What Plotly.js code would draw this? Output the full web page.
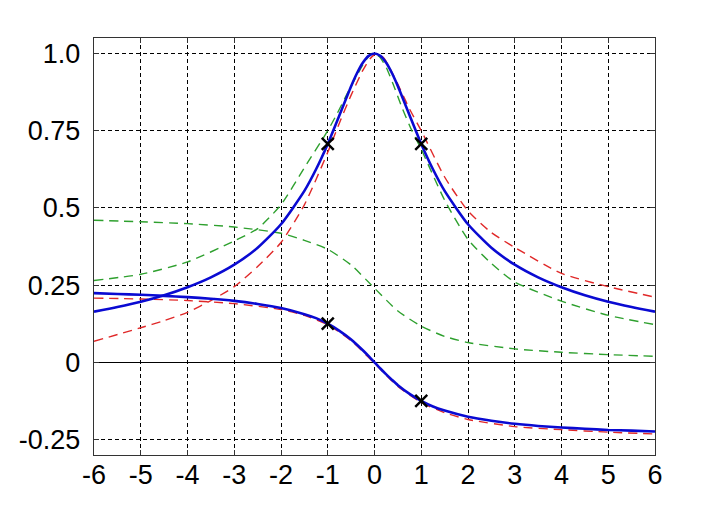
<!DOCTYPE html>
<html>
<head>
<meta charset="utf-8">
<script src="https://cdn.plot.ly/plotly-3.0.1.min.js"></script>
<style>html,body{margin:0;padding:0;background:#fff;}#chart{width:724px;height:512px;}</style>
</head>
<body>
<div id="chart"></div>
<script>
// ---- data ----
const blueX = [-6,-5.5,-5,-4.5,-4,-3.5,-3,-2.5,-2,-1.5,-1.25,-1,-0.75,-0.5,-0.375,-0.25,-0.125,0,0.125,0.25,0.375,0.5,0.75,1,1.25,1.5,2,2.5,3,3.5,4,4.5,5,5.5,6];
const blueUpper = [0.164,0.179,0.196,0.217,0.243,0.275,0.316,0.371,0.447,0.555,0.625,0.707,0.8,0.894,0.936,0.970,0.992,1.0,0.992,0.970,0.936,0.894,0.8,0.707,0.625,0.555,0.447,0.371,0.316,0.275,0.243,0.217,0.196,0.179,0.164];
const blueLower = [0.224,0.221,0.219,0.215,0.211,0.206,0.199,0.189,0.176,0.156,0.143,0.125,0.102,0.074,0.057,0.039,0.020,0,-0.020,-0.039,-0.057,-0.074,-0.102,-0.125,-0.143,-0.156,-0.176,-0.189,-0.199,-0.206,-0.211,-0.215,-0.219,-0.221,-0.224];

const redUpperX = [-6,-5,-4.5,-4,-3.5,-3,-2.5,-2,-1.5,-1,-0.75,-0.5,-0.25,-0.1,0.05,0.2,0.35,0.5,0.75,1,1.5,2,2.5,3,4,5,6];
const redUpper = [0.068,0.112,0.135,0.162,0.2,0.245,0.31,0.388,0.51,0.68,0.775,0.865,0.945,0.982,1.0,0.985,0.945,0.9,0.82,0.75,0.6,0.49,0.42,0.372,0.288,0.245,0.211];

const redLowerX = [-6,-5,-4,-3,-2,-1.5,-1,-0.5,0,0.5,1,1.5,2,3,4,5,6];
const redLower = [0.208,0.205,0.200,0.190,0.171,0.152,0.122,0.07,-0.003,-0.078,-0.13,-0.163,-0.185,-0.208,-0.218,-0.226,-0.232];

const greenUpperX = [-6,-5,-4,-3,-2.5,-2,-1.5,-1,-0.8,-0.6,-0.4,-0.2,-0.05,0.1,0.25,0.4,0.6,0.8,1,1.5,2,2.5,3,4,5,6];
const greenUpper = [0.265,0.285,0.325,0.393,0.433,0.51,0.63,0.75,0.805,0.865,0.922,0.975,1.0,0.99,0.955,0.9,0.82,0.75,0.69,0.525,0.398,0.32,0.26,0.198,0.152,0.122];

const greenLowerX = [-6,-5,-4,-3,-2,-1.5,-1,-0.5,0,0.5,1,1.5,2,3,4,5,6];
const greenLower = [0.46,0.455,0.449,0.438,0.418,0.395,0.366,0.315,0.24,0.166,0.117,0.084,0.064,0.0435,0.0325,0.025,0.0195];

const markX = [-1,1,-1,1];
const markY = [0.707,0.707,0.125,-0.125];

const xTicks = [-6,-5,-4,-3,-2,-1,0,1,2,3,4,5,6];
const xTickText = ['-6','-5','-4','-3','-2','-1','0','1','2','3','4','5','6'];
const yTicks = [-0.25,0,0.25,0.5,0.75,1];
const yTickText = ['-0.25','0','0.25','0.5','0.75','1.0'];

// ---- styles ----
const RED = '#e02828', GREEN = '#2ea02e', BLUE = '#0a0ad2';
const dashed = (c) => ({color:c, width:1.4, dash:'9px,6px', shape:'spline', smoothing:0.6});

const traces = [
  {x:greenUpperX, y:greenUpper, mode:'lines', line:dashed(GREEN), hoverinfo:'skip'},
  {x:greenLowerX, y:greenLower, mode:'lines', line:dashed(GREEN), hoverinfo:'skip'},
  {x:redUpperX, y:redUpper, mode:'lines', line:dashed(RED), hoverinfo:'skip'},
  {x:redLowerX, y:redLower, mode:'lines', line:dashed(RED), hoverinfo:'skip'},
  {x:blueX, y:blueUpper, mode:'lines', line:{color:BLUE, width:2.6, shape:'spline', smoothing:0.6}, hoverinfo:'skip'},
  {x:blueX, y:blueLower, mode:'lines', line:{color:BLUE, width:2.6, shape:'spline', smoothing:0.6}, hoverinfo:'skip'},
  {x:markX, y:markY, mode:'markers', marker:{symbol:'x-thin', size:12, color:'#000', line:{color:'#000', width:2.4}}, hoverinfo:'skip'}
];

const axisCommon = {
  showline:true, mirror:'ticks', linecolor:'#333', linewidth:1.3,
  ticks:'inside', ticklen:5, tickcolor:'#333', tickwidth:1,
  showgrid:true, gridcolor:'#000', gridwidth:1, griddash:'4px,3px',
  tickfont:{family:'Liberation Sans, Arial, sans-serif', size:27, color:'#000'},
  fixedrange:true
};

const layout = {
  width:724, height:512,
  margin:{l:94, r:69, t:38, b:57},
  paper_bgcolor:'#fff', plot_bgcolor:'#fff',
  showlegend:false,
  xaxis:Object.assign({}, axisCommon, {range:[-6,6], tickmode:'array', tickvals:xTicks, ticktext:xTickText, zeroline:false, ticklabelstandoff:-5}),
  yaxis:Object.assign({}, axisCommon, {range:[-0.3,1.05], tickmode:'array', tickvals:yTicks, ticktext:yTickText, zeroline:true, zerolinecolor:'#000', zerolinewidth:1.2, ticklabelstandoff:7})
};

Plotly.newPlot('chart', traces, layout, {staticPlot:true, displayModeBar:false});
</script>
</body>
</html>
